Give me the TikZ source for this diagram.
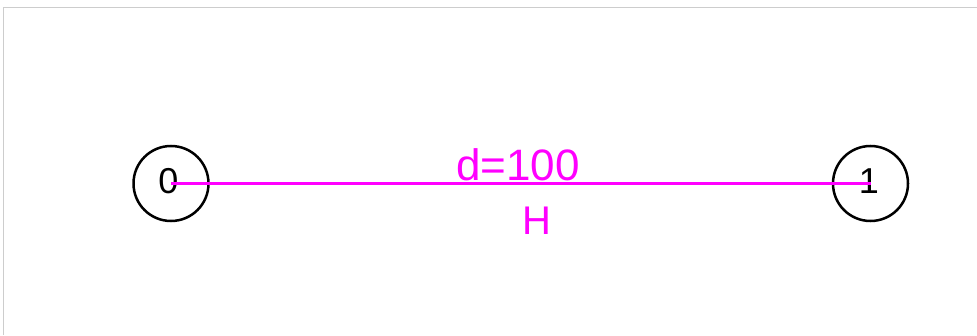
\documentclass[tikz,border=0pt]{standalone}
\usepackage{fontspec}
\setmainfont{Liberation Sans}
\definecolor{mag}{RGB}{255,0,255}
\definecolor{frame}{RGB}{205,205,205}
\begin{document}
\begin{tikzpicture}[x=1pt,y=1pt,
  vertex/.style={circle,draw=black,line width=2.5pt,minimum size=75pt,inner sep=0pt},
  vlabel/.style={font=\fontsize{36}{36}\selectfont,text=black,inner sep=0pt,anchor=base},
  elabel/.style={text=mag,inner sep=0pt,anchor=base},
  edge/.style={draw=mag,line width=2.4pt}]
\useasboundingbox (0,0) rectangle (977,335);
\fill[white] (0,0) rectangle (977,335);
\draw[frame,line width=1pt] (3.5,0) -- (3.5,327.5) -- (977,327.5);
\node[vertex] (n0) at (171,151.5) {};
\node[vertex] (n1) at (870.5,151.5) {};
\node[vlabel] (t0) at (168.5,141.7) {0};
\node[vlabel] (t1) at (868.8,141.7) {1};
\draw[edge] (n0.center) -- (n1.center);
\node[elabel,font=\fontsize{44}{44}\selectfont] (d) at (518,154) {d=100};
\node[elabel,font=\fontsize{40}{40}\selectfont] (h) at (537,100.7) {H};
\end{tikzpicture}
\end{document}
